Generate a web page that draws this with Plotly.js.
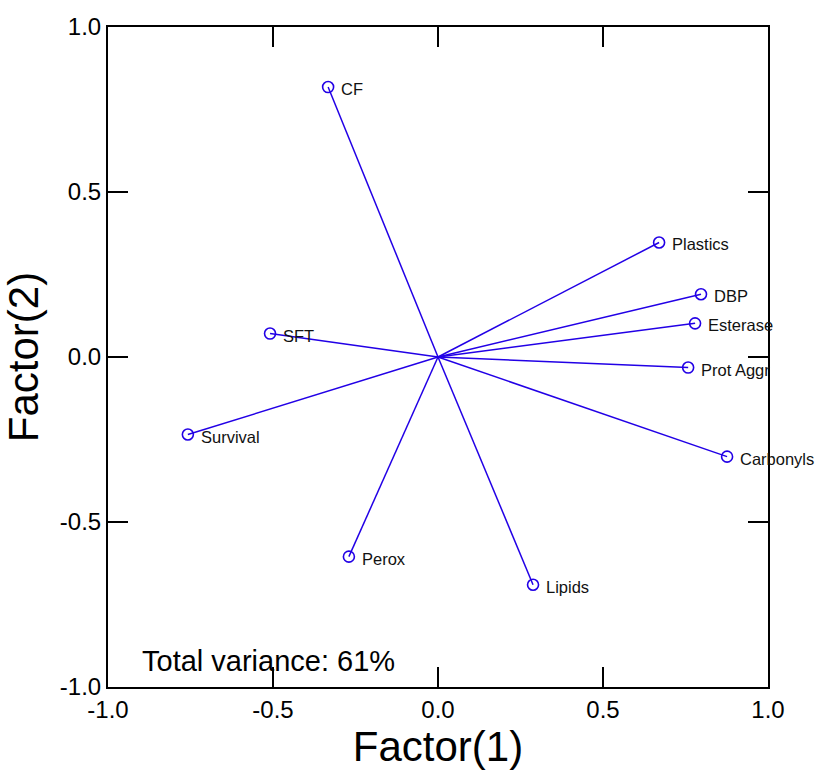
<!DOCTYPE html>
<html>
<head>
<meta charset="utf-8">
<script src="https://cdn.plot.ly/plotly-3.0.1.min.js"></script>
<style>body{margin:0;padding:0;background:#fff;}#chart{width:818px;height:771px;}</style>
</head>
<body>
<div id="chart"></div>
<script>
const variables = ["CF", "Plastics", "DBP", "Esterase", "Prot Aggr", "Carbonyls", "Lipids", "Perox", "Survival", "SFT"];
const factor1 = [-0.333, 0.670, 0.797, 0.779, 0.758, 0.876, 0.288, -0.270, -0.758, -0.509];
const factor2 = [0.818, 0.347, 0.190, 0.102, -0.032, -0.302, -0.690, -0.605, -0.235, 0.071];
const varianceText = "Total variance: 61%";
const tickVals = [-1.0, -0.5, 0.0, 0.5, 1.0];
const tickText = ["-1.0", "-0.5", "0.0", "0.5", "1.0"];

const FONT = "Liberation Sans, Arial, sans-serif";
const blue = "rgb(34,0,230)";
const lx = [], ly = [];
for (let i = 0; i < variables.length; i++) {
  lx.push(0, factor1[i], null);
  ly.push(0, factor2[i], null);
}
const traces = [
  {x: lx, y: ly, mode: "lines", line: {color: blue, width: 1.5}, hoverinfo: "skip", showlegend: false, cliponaxis: false},
  {x: factor1, y: factor2, mode: "markers",
   marker: {symbol: "circle-open", size: 11, color: blue, line: {width: 1.6, color: blue}},
   showlegend: false, cliponaxis: false}
];
const labelAnns = variables.map((v, i) => ({
  x: factor1[i], y: factor2[i], xref: "x", yref: "y", text: v, showarrow: false,
  xanchor: "left", yanchor: "middle", xshift: 11, yshift: -2,
  font: {family: FONT, size: 16.5, color: "#111"}
}));
const axisCommon = {
  range: [-1, 1], tickvals: tickVals, ticktext: tickText, ticks: "inside", ticklen: 20, tickwidth: 1.5,
  tickcolor: "#000", showline: true, linecolor: "#000", linewidth: 2, mirror: "ticks",
  showgrid: false, zeroline: false, tickfont: {family: FONT, size: 24, color: "#000"}
};
const layout = {
  width: 818, height: 771,
  margin: {l: 108, r: 50, t: 27, b: 84},
  paper_bgcolor: "#fff", plot_bgcolor: "#fff",
  xaxis: Object.assign({}, axisCommon, {title: {text: "Factor(1)", font: {family: FONT, size: 42, color: "#000"}, standoff: 2}}),
  yaxis: Object.assign({}, axisCommon, {title: {text: "Factor(2)", font: {family: FONT, size: 42, color: "#000"}, standoff: 8}}),
  annotations: labelAnns.concat([{x: -0.903, y: -0.921, xref: "x", yref: "y", text: varianceText, showarrow: false, xanchor: "left", yanchor: "middle",
    font: {family: FONT, size: 29, color: "#000"}}])
};
Plotly.newPlot("chart", traces, layout, {displayModeBar: false, staticPlot: true});
</script>
</body>
</html>
